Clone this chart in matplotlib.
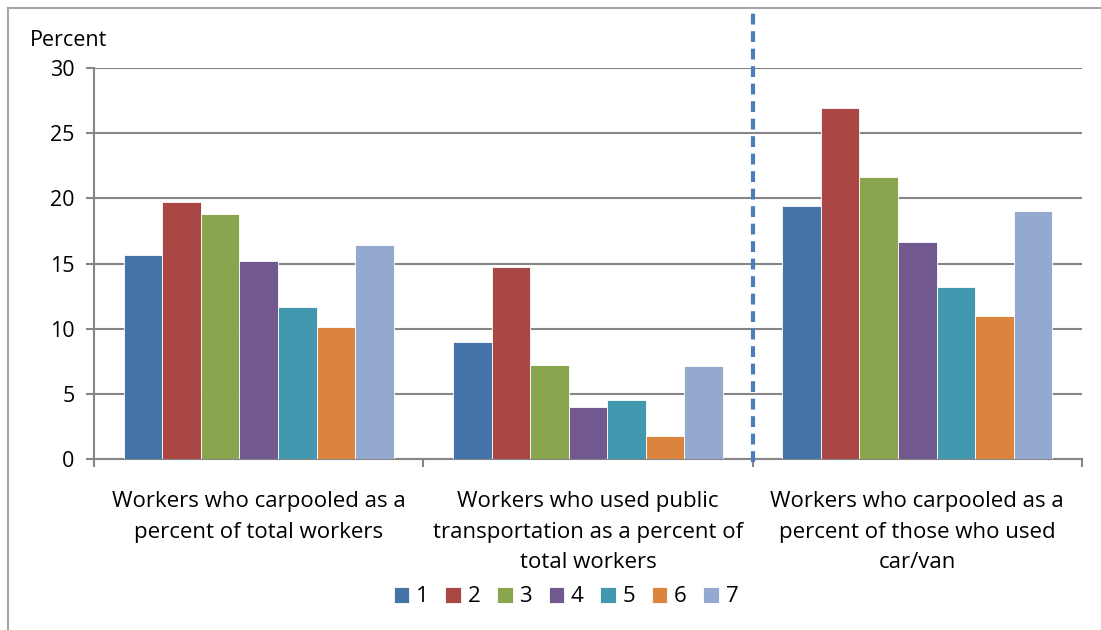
import matplotlib
matplotlib.use("Agg")
import matplotlib.pyplot as plt
from matplotlib.lines import Line2D
import numpy as np

categories = [
    "Workers who carpooled as a\npercent of total workers",
    "Workers who used public\ntransportation as a percent of\ntotal workers",
    "Workers who carpooled as a\npercent of those who used\ncar/van",
]
series_names = ["1", "2", "3", "4", "5", "6", "7"]
values = [
    [15.65, 8.98, 19.4],   # 1
    [19.7, 14.7, 26.9],    # 2
    [18.8, 7.2, 21.6],     # 3
    [15.2, 4.0, 16.65],    # 4
    [11.7, 4.55, 13.2],    # 5
    [10.15, 1.75, 10.95],  # 6
    [16.4, 7.15, 19.0],    # 7
]
colors = ["#4572a7", "#aa4643", "#89a54e", "#71588f", "#4198af", "#db843d", "#93a9cf"]
yticks = [0, 5, 10, 15, 20, 25, 30]

plt.rcParams["font.family"] = ["Open Sans", "DejaVu Sans"]
grey = "#868686"

fig = plt.figure(figsize=(11.01, 6.30), dpi=100)
ax = fig.add_axes([94 / 1101, 1 - 459 / 630, 988 / 1101, 391 / 630])

# chart frame (left/top edges visible)
fig.add_artist(Line2D([8 / 1101, 8 / 1101], [0, 1 - 8 / 630], transform=fig.transFigure,
                      color="#a6a6a6", lw=1.5))
fig.add_artist(Line2D([8 / 1101, 1], [1 - 8 / 630, 1 - 8 / 630], transform=fig.transFigure,
                      color="#a6a6a6", lw=1.5))

x = np.arange(len(categories))
n = len(series_names)
group_w = 0.82
w = group_w / n
for i, (name, vals) in enumerate(zip(series_names, values)):
    offs = -group_w / 2 + w * (i + 0.5)
    ax.bar(x + offs, vals, width=w, color=colors[i], label=name,
           edgecolor="white", linewidth=0.6, zorder=3)

ax.set_xlim(-0.5, len(categories) - 0.5)
ax.set_ylim(0, 30)
ax.set_yticks(yticks)
ax.yaxis.grid(True, color=grey, lw=1.5, zorder=0)
ax.set_axisbelow(True)
for s in ["top", "right"]:
    ax.spines[s].set_visible(False)
ax.spines["left"].set_color(grey)
ax.spines["bottom"].set_color(grey)
ax.spines["left"].set_linewidth(1.5)
ax.spines["bottom"].set_linewidth(1.5)
ax.tick_params(axis="y", length=6, width=1.5, color=grey, labelsize=15.5, pad=8)
ax.set_xticks(np.arange(-0.5, len(categories)), minor=True)
ax.set_xticks(x)
ax.set_xticklabels(categories, fontsize=16, linespacing=1.6)
ax.tick_params(axis="x", which="major", length=0, pad=23)
ax.tick_params(axis="x", which="minor", length=6, width=1.5, color=grey, direction="out")

# dashed separator
ax.axvline(1.5, ymin=-0.008, ymax=(459 - 8) / 391, color="#4a7ebb", lw=3,
           linestyle=(0, (2.6, 1.6)), clip_on=False, zorder=5)

fig.text(30 / 1101, 1 - 40 / 630, "Percent", fontsize=15.5, va="center", ha="left")

ax.legend(loc="center", bbox_to_anchor=(566 / 1101, 1 - 597 / 630),
          bbox_transform=fig.transFigure, ncol=7, frameon=False, fontsize=16,
          handlelength=0.7, handleheight=0.7, handletextpad=0.3, columnspacing=0.75)

fig.savefig("out.png", dpi=100)
